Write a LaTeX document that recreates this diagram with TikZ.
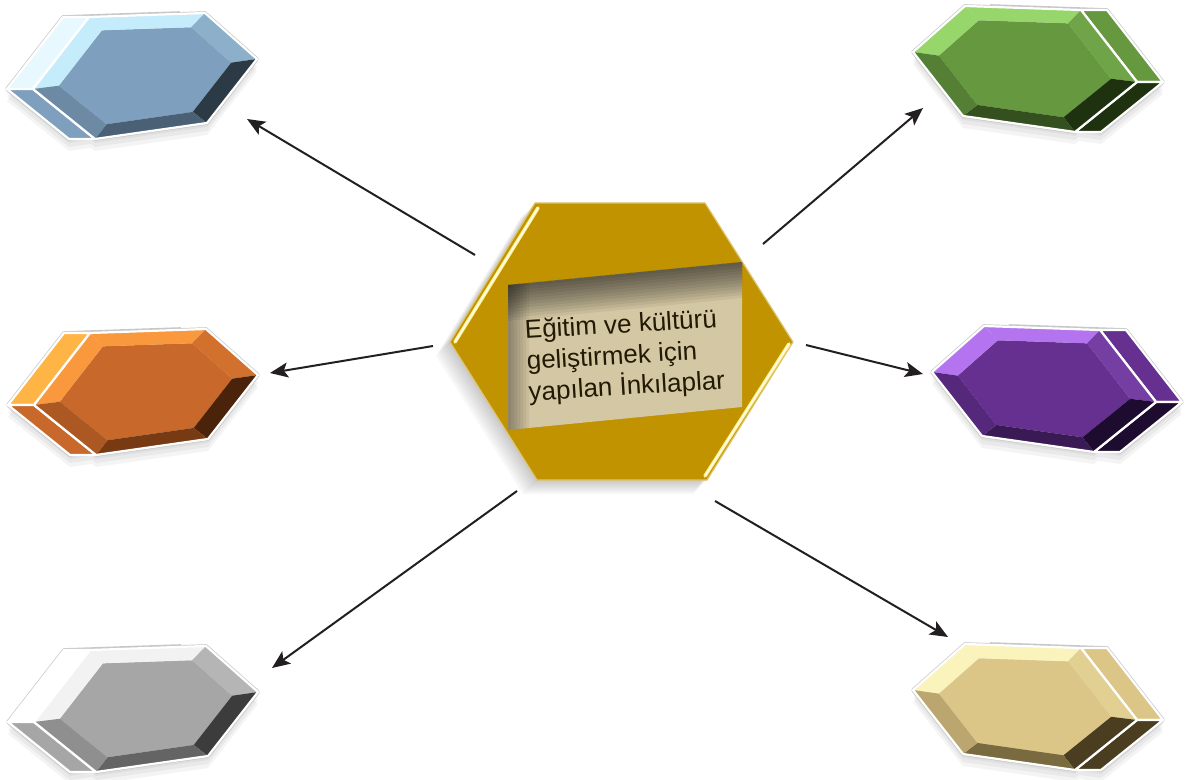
\documentclass[tikz,border=0pt]{standalone}
\usepackage{fontspec}
\setmainfont{Liberation Sans}
\usetikzlibrary{arrows.meta}

% gem colours: front face, light bevel, dark bevel, deepest bevel, light depth side
\definecolor{bluefront}{RGB}{126,160,190}
\definecolor{bluelite}{RGB}{197,236,250}
\definecolor{bluedark}{RGB}{74,96,117}
\definecolor{bluedeep}{RGB}{44,58,69}
\definecolor{blueside}{RGB}{232,248,255}
\definecolor{orangefront}{RGB}{200,104,42}
\definecolor{orangelite}{RGB}{250,152,62}
\definecolor{orangedark}{RGB}{120,58,18}
\definecolor{orangedeep}{RGB}{75,35,10}
\definecolor{orangeside}{RGB}{255,180,70}
\definecolor{grayfront}{RGB}{166,166,166}
\definecolor{graylite}{RGB}{242,242,242}
\definecolor{graydark}{RGB}{100,100,100}
\definecolor{graydeep}{RGB}{60,60,60}
\definecolor{grayside}{RGB}{255,255,255}
\definecolor{greenfront}{RGB}{102,152,63}
\definecolor{greenlite}{RGB}{150,214,106}
\definecolor{greendark}{RGB}{52,80,30}
\definecolor{greendeep}{RGB}{30,50,16}
\definecolor{purplefront}{RGB}{101,48,143}
\definecolor{purplelite}{RGB}{180,116,240}
\definecolor{purpledark}{RGB}{58,26,85}
\definecolor{purpledeep}{RGB}{30,12,48}
\definecolor{tanfront}{RGB}{220,198,135}
\definecolor{tanlite}{RGB}{250,244,188}
\definecolor{tandark}{RGB}{122,106,64}
\definecolor{tandeep}{RGB}{74,61,32}
% centre colours
\definecolor{gold}{RGB}{193,147,0}
\definecolor{goldshine}{RGB}{255,240,140}
\definecolor{boxtan}{RGB}{212,199,163}
\definecolor{textink}{RGB}{35,26,5}
\definecolor{arrowink}{RGB}{35,31,32}

\tikzset{
  gemedge/.style={draw=white, line width=1.1pt, line join=round},
  shine/.style={goldshine, line width=1.8pt, line cap=round},
  link/.style={arrowink, line width=1pt, -{Stealth[length=9pt,width=7.5pt,inset=2pt]}},
  caption/.style={align=left, text=textink, inner sep=0pt, font=\fontsize{13pt}{15.5pt}\selectfont}
}

% corners of one gem face, #1 = 1 (depth to the right) or -1 (depth to the left)
\newcommand{\gemcorners}[2]{%
  \ifnum#1>0
    \coordinate (l#2) at (-112,-16); \coordinate (tl#2) at (-60,-62);
    \coordinate (tr#2) at (56,-58); \coordinate (r#2) at (112,14);
    \coordinate (br#2) at (50,64); \coordinate (bl#2) at (-62,48);
  \else
    \coordinate (l#2) at (-112,14); \coordinate (tl#2) at (-56,-58);
    \coordinate (tr#2) at (60,-62); \coordinate (r#2) at (112,-16);
    \coordinate (br#2) at (62,48); \coordinate (bl#2) at (-50,64);
  \fi}

% bevelled gem: #1 centre, #2 side of depth, #3 colour prefix
\newcommand{\gem}[3]{%
  \begin{scope}[shift={(#1)}]
    \gemcorners{#2}{}
    \begin{scope}[shift={(#2*26,0)}]\gemcorners{#2}{b}\end{scope}
    \begin{scope}[scale=0.77]\gemcorners{#2}{i}\end{scope}
    % soft shadow
    \foreach \s in {2,4,6}
      \fill[black,opacity=0.045,transform canvas={yshift=-\s pt}]
        (l)--(tl)--(tr)--(r)--(br)--(bl)--cycle (lb)--(tlb)--(trb)--(rb)--(brb)--(blb)--cycle;
    % grey rim
    \draw[black!22, line width=1.8pt, line join=round]
      (lb)--(tlb)--(trb)--(rb)--(brb)--(blb)--cycle (l)--(tl)--(tr)--(r)--(br)--(bl)--cycle;
    % depth sides
    \ifnum#2>0
      \filldraw[gemedge, fill=#3front] (tr)--(trb)--(rb)--(r)--cycle;
      \filldraw[gemedge, fill=#3deep] (r)--(rb)--(brb)--(br)--cycle;
    \else
      \filldraw[gemedge, fill=#3side] (tl)--(tlb)--(lb)--(l)--cycle;
      \filldraw[gemedge, fill=#3front] (l)--(lb)--(blb)--(bl)--cycle;
    \fi
    % front face and bevel
    \fill[#3front] (li)--(tli)--(tri)--(ri)--(bri)--(bli)--cycle;
    \fill[#3lite] (l)--(tl)--(tli)--(li)--cycle;
    \fill[#3lite] (tl)--(tr)--(tri)--(tli)--cycle;
    \fill[#3front!80!#3lite] (tr)--(r)--(ri)--(tri)--cycle;
    \fill[#3deep] (r)--(br)--(bri)--(ri)--cycle;
    \fill[#3dark] (br)--(bl)--(bli)--(bri)--cycle;
    \fill[#3front!65!#3dark] (bl)--(l)--(li)--(bli)--cycle;
    \draw[gemedge] (l)--(tl)--(tr)--(r)--(br)--(bl)--cycle;
  \end{scope}}

\begin{document}
\begin{tikzpicture}[x=0.5pt,y=-0.5pt]
  \useasboundingbox (0,0) rectangle (1187,780);

  % gem centres
  \coordinate (bluegem) at (145,75);
  \coordinate (orangegem) at (146,391);
  \coordinate (graygem) at (146,708);
  \coordinate (greengem) at (1025,68);
  \coordinate (purplegem) at (1044,388);
  \coordinate (tangem) at (1025,706);

  % left column
  \gem{bluegem}{-1}{blue}
  \gem{orangegem}{-1}{orange}
  \gem{graygem}{-1}{gray}
  % right column
  \gem{greengem}{1}{green}
  \gem{purplegem}{1}{purple}
  \gem{tangem}{1}{tan}

  % centre hexagon shadow
  \foreach \s in {2,4,...,14}
    \fill[black,opacity=0.03,transform canvas={xshift=-\s*0.5pt,yshift=-\s*0.5pt}]
      (535,203) -- (705,203) -- (793,342) -- (707,480) -- (537,480) -- (450,342) -- cycle;
  % centre hexagon
  \coordinate (core) at (621,342);
  \filldraw[fill=gold, draw=gold!55!white, line width=0.6pt]
    (535,203) -- (705,203) -- (793,342) -- (707,480) -- (537,480) -- (450,342) -- cycle;
  \draw[shine] (538,208) -- (455,342);
  \draw[shine] (789,344) -- (705,476);
  \draw[white, line width=0.6pt, line cap=round] (538,208) -- (455,342);
  \draw[white, line width=0.6pt, line cap=round] (789,344) -- (705,476);

  % text panel with inner shadow
  \fill[boxtan] (508,285) -- (742,262) -- (742,407) -- (508,430) -- cycle;
  \foreach \k in {1,...,12}
    \fill[black,opacity=0.06] (508,285) -- (742,262) -- (742,262+3*\k) -- (508,285+3*\k) -- cycle;
  \foreach \k in {1,...,7}
    \fill[black,opacity=0.05] (508,285) -- (508+3*\k,285-0.3*\k) -- (508+3*\k,430-0.3*\k) -- (508,430) -- cycle;
  \node[caption, rotate=3.5] (title) at (625,357) {Eğitim ve kültürü\\geliştirmek için\\yapılan İnkılaplar};

  % arrows out of the centre
  \coordinate (fromblue) at (475,255);   \coordinate (toblue) at (247,119);
  \coordinate (fromorange) at (433,346); \coordinate (toorange) at (270,373);
  \coordinate (fromgray) at (517,491);   \coordinate (togray) at (272,668);
  \coordinate (fromgreen) at (763,244);  \coordinate (togreen) at (923,108);
  \coordinate (frompurple) at (806,345); \coordinate (topurple) at (923,374);
  \coordinate (fromtan) at (715,501);    \coordinate (totan) at (948,637);
  \draw[link] (fromblue) -- (toblue);
  \draw[link] (fromorange) -- (toorange);
  \draw[link] (fromgray) -- (togray);
  \draw[link] (fromgreen) -- (togreen);
  \draw[link] (frompurple) -- (topurple);
  \draw[link] (fromtan) -- (totan);
\end{tikzpicture}
\end{document}
